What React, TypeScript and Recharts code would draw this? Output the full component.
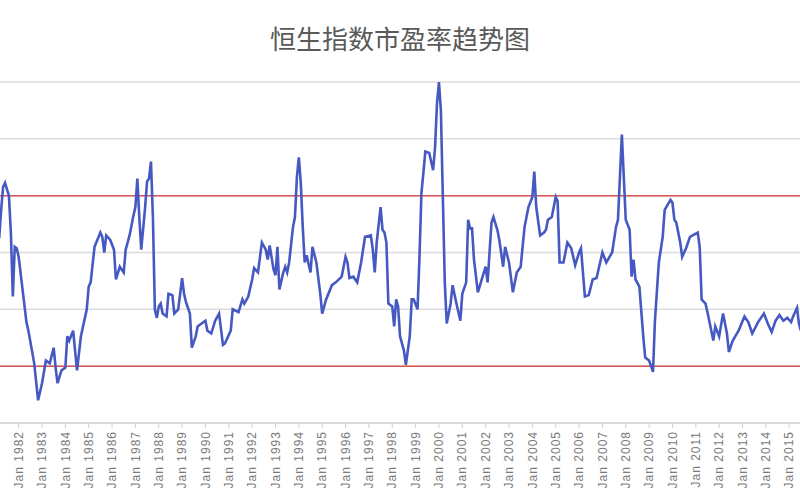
import { LineChart, Line, XAxis, YAxis, CartesianGrid, ReferenceLine } from "recharts";

const title = "恒生指数市盈率趋势图";

const months = [
  "1981-03", "1981-04", "1981-05", "1981-06", "1981-08", "1981-09", "1981-10", "1981-11", "1981-12",
  "1982-01", "1982-03", "1982-05", "1982-06", "1982-09", "1982-11",
  "1983-01", "1983-03", "1983-05", "1983-07", "1983-08", "1983-09", "1983-11",
  "1984-01", "1984-02", "1984-03", "1984-05", "1984-06", "1984-07", "1984-09", "1984-12",
  "1985-01", "1985-02", "1985-04", "1985-07", "1985-08", "1985-09", "1985-10", "1985-12",
  "1986-02", "1986-03", "1986-05", "1986-07", "1986-08", "1986-10", "1986-12",
  "1987-01", "1987-02", "1987-03", "1987-04", "1987-06", "1987-07", "1987-08", "1987-09", "1987-10", "1987-11", "1987-12",
  "1988-01", "1988-02", "1988-03", "1988-05", "1988-06", "1988-08", "1988-09", "1988-11",
  "1989-01", "1989-02", "1989-03", "1989-05", "1989-06", "1989-08", "1989-09", "1989-11",
  "1990-01", "1990-02", "1990-04", "1990-06", "1990-08", "1990-10", "1990-11",
  "1991-02", "1991-03", "1991-06", "1991-08", "1991-09", "1991-11",
  "1992-01", "1992-02", "1992-04", "1992-06", "1992-08", "1992-09", "1992-10", "1992-12",
  "1993-01", "1993-02", "1993-03", "1993-05", "1993-06", "1993-07", "1993-08", "1993-10", "1993-11", "1993-12",
  "1994-01", "1994-02", "1994-03", "1994-04", "1994-05", "1994-07", "1994-08", "1994-10", "1994-12",
  "1995-01", "1995-03", "1995-06", "1995-08", "1995-11",
  "1996-01", "1996-02", "1996-03", "1996-05", "1996-07", "1996-09", "1996-11",
  "1997-02", "1997-03", "1997-04", "1997-05", "1997-07", "1997-08", "1997-09", "1997-10", "1997-11",
  "1998-01", "1998-02", "1998-03", "1998-04", "1998-05", "1998-07", "1998-08", "1998-10", "1998-11", "1998-12",
  "1999-02", "1999-03", "1999-04", "1999-05", "1999-06", "1999-08", "1999-10", "1999-11", "1999-12",
  "2000-01", "2000-02", "2000-03", "2000-04", "2000-05", "2000-07", "2000-08", "2000-10", "2000-12",
  "2001-01", "2001-03", "2001-04", "2001-05", "2001-06", "2001-07", "2001-09", "2001-11",
  "2002-01", "2002-02", "2002-04", "2002-05", "2002-07", "2002-08", "2002-10", "2002-11",
  "2003-01", "2003-03", "2003-05", "2003-07", "2003-09", "2003-11",
  "2004-01", "2004-02", "2004-03", "2004-05", "2004-07", "2004-08", "2004-09", "2004-11",
  "2005-01", "2005-02", "2005-03", "2005-05", "2005-07", "2005-09", "2005-11",
  "2006-01", "2006-02", "2006-04", "2006-06", "2006-08", "2006-10",
  "2007-01", "2007-03", "2007-06", "2007-08", "2007-09", "2007-11", "2007-12",
  "2008-01", "2008-03", "2008-04", "2008-05", "2008-06", "2008-08", "2008-10", "2008-11",
  "2009-01", "2009-03", "2009-04", "2009-06", "2009-08", "2009-09", "2009-12",
  "2010-01", "2010-02", "2010-03", "2010-05", "2010-06", "2010-08", "2010-10",
  "2011-02", "2011-03", "2011-04", "2011-06", "2011-07", "2011-10", "2011-11",
  "2012-01", "2012-03", "2012-05", "2012-06", "2012-08", "2012-11",
  "2013-02", "2013-04", "2013-06", "2013-09", "2013-12",
  "2014-02", "2014-04", "2014-06", "2014-08", "2014-10", "2014-12",
  "2015-02", "2015-03", "2015-05", "2015-06", "2015-07",
];

const pe = [
  17.0, 19.0, 20.6, 20.9, 20.0, 17.4, 12.9, 16.4, 16.3,
  15.7, 13.4, 11.1, 10.5, 8.2, 5.6,
  6.8, 8.4, 8.2, 9.3, 7.9, 6.8, 7.7,
  7.9, 10.1, 9.8, 10.5, 9.1, 7.7, 10.1, 12.0,
  13.6, 13.9, 16.4, 17.4, 17.1, 16.0, 17.2, 16.9,
  16.2, 14.1, 15.0, 14.6, 16.2, 17.2, 18.6,
  19.2, 21.2, 18.5, 16.2, 19.2, 21.0, 21.2, 22.4, 18.5, 12.0, 11.4,
  12.2, 12.4, 11.7, 11.5, 13.1, 13.0, 11.7, 12.0,
  14.2, 13.1, 12.5, 11.7, 9.3, 10.1, 10.8, 11.0,
  11.2, 10.5, 10.3, 11.2, 11.7, 9.5, 9.6,
  10.5, 12.0, 11.8, 12.7, 12.4, 12.9,
  14.1, 14.9, 14.6, 16.7, 16.2, 15.5, 16.5, 14.8,
  14.4, 16.4, 13.4, 14.6, 15.0, 14.6, 15.3, 17.8, 18.5, 21.3,
  22.7, 20.9, 17.8, 15.3, 15.8, 14.6, 16.4, 15.3, 13.1,
  11.7, 12.7, 13.7, 13.9, 14.3,
  15.7, 15.3, 14.2, 14.3, 13.9, 15.3, 17.1,
  17.2, 16.2, 14.6, 16.7, 19.2, 17.6, 17.4, 16.7, 12.4,
  12.2, 10.8, 12.7, 12.2, 10.1, 9.1, 8.1, 10.1, 12.7, 12.7,
  12.0, 15.7, 20.2, 21.6, 23.1, 23.0, 21.8, 23.4, 26.5,
  28.0, 26.0, 19.9, 13.9, 11.0, 12.4, 13.7, 12.4, 11.2,
  13.1, 13.9, 18.3, 17.7, 17.7, 15.5, 13.2, 14.1,
  15.0, 13.9, 18.1, 18.5, 17.6, 16.9, 15.0, 16.4,
  15.3, 13.2, 14.6, 15.0, 17.8, 19.2,
  19.9, 21.7, 19.2, 17.2, 17.4, 17.6, 18.3, 18.5,
  19.9, 19.6, 15.3, 15.3, 16.7, 16.3, 15.1,
  16.0, 16.3, 12.9, 13.0, 14.1, 14.2,
  16.0, 15.3, 16.0, 17.8, 18.3, 24.3, 21.3,
  18.3, 17.6, 14.3, 15.5, 14.1, 13.6, 10.1, 8.6,
  8.4, 7.6, 11.2, 15.3, 17.1, 19.0, 19.7,
  19.5, 18.3, 18.1, 16.7, 15.7, 16.3, 17.1,
  17.4, 16.4, 12.7, 12.4, 11.8, 9.8, 10.8,
  10.1, 11.7, 10.3, 9.0, 9.8, 10.5,
  11.5, 11.1, 10.3, 11.1, 11.7,
  11.0, 10.4, 11.2, 11.6, 11.2, 11.4,
  11.1, 11.5, 12.1, 11.0, 10.5,
];

const tickYears = [
  1982, 1983, 1984, 1985, 1986, 1987, 1988, 1989, 1990, 1991, 1992, 1993,
  1994, 1995, 1996, 1997, 1998, 1999, 2000, 2001, 2002, 2003, 2004, 2005,
  2006, 2007, 2008, 2009, 2010, 2011, 2012, 2013, 2014, 2015,
];

const peTicks = [4, 8, 12, 16, 20, 24, 28];
const bands = [8, 20];

const toYear = (s: string) => {
  const [y, m] = s.split("-").map(Number);
  return y + (m - 1) / 12;
};

const data = months.map((m, i) => ({ t: toYear(m), pe: pe[i] }));

const YearTick = (props: any) => {
  const { x, y, payload } = props;
  return (
    <text
      x={x}
      y={y}
      transform={`rotate(-90, ${x}, ${y})`}
      textAnchor="end"
      dy="0.35em"
      fontSize={12}
      letterSpacing={1}
      fill="#7a7a7a"
      fontFamily="'Liberation Sans', Arial, sans-serif"
    >
      {`Jan ${payload.value}`}
    </text>
  );
};

export default function App() {
  return (
    <div style={{ position: "absolute", left: 0, top: 0, width: 800, height: 500, background: "#fff", overflow: "hidden" }}>
      <div
        style={{
          position: "absolute",
          left: 0,
          top: 22,
          width: 800,
          textAlign: "center",
          fontSize: 26,
          lineHeight: "32px",
          color: "#595959",
          fontFamily: "'Noto Sans CJK SC', sans-serif",
        }}
      >
        {title}
      </div>
      <LineChart width={800} height={500} data={data} margin={{ top: 82, right: 0, bottom: 7, left: 0 }}>
        <CartesianGrid vertical={false} stroke="#dcdcdc" strokeWidth={1.5} />
        <XAxis
          dataKey="t"
          type="number"
          domain={[1981.2013, 2015.4625]}
          allowDataOverflow
          ticks={tickYears}
          interval={0}
          height={70}
          tick={<YearTick />}
          tickSize={5}
          tickMargin={3}
          stroke="#d0d0d0"
        />
        <YAxis hide type="number" domain={[4, 28]} ticks={peTicks} />
        {bands.map((v) => (
          <ReferenceLine key={v} y={v} stroke="#d9534f" strokeWidth={1.5} />
        ))}
        <Line
          type="linear"
          dataKey="pe"
          stroke="#4659c2"
          strokeWidth={2.6}
          dot={false}
          isAnimationActive={false}
        />
      </LineChart>
    </div>
  );
}
